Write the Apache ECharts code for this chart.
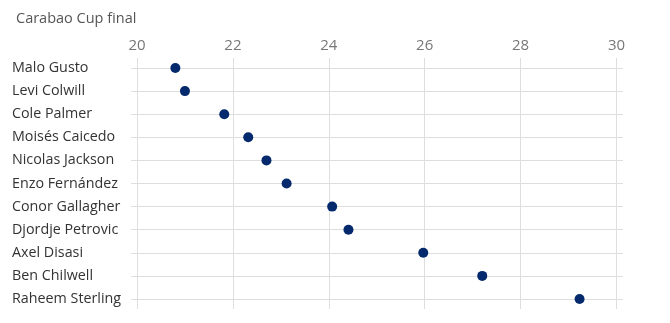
<!DOCTYPE html>
<html>
<head>
<meta charset="utf-8">
<script src="https://cdn.jsdelivr.net/npm/echarts@6/dist/echarts.min.js"></script>
<style>
  html, body { margin: 0; padding: 0; background: #fff; }
  #main { width: 670px; height: 323px; }
</style>
</head>
<body>
<div id="main"></div>
<script>
// players, top to bottom
var players = ['Malo Gusto', 'Levi Colwill', 'Cole Palmer', 'Moisés Caicedo', 'Nicolas Jackson',
  'Enzo Fernández', 'Conor Gallagher', 'Djordje Petrovic', 'Axel Disasi', 'Ben Chilwell', 'Raheem Sterling'];
// ages at the final
var ages = [20.8, 21.0, 21.82, 22.32, 22.7, 23.12, 24.07, 24.41, 25.97, 27.2, 29.23];
var xTicks = [20, 22, 24, 26, 28, 30];

var font = "'Open Sans', 'Noto Sans', sans-serif";
var chart = echarts.init(document.getElementById('main'));

// grid 0 holds the points and row lines (row lines run a little past the plot)
// grid 1 holds the top axis and the column lines
var pxPerUnit = (616.5 - 137) / (xTicks[xTicks.length - 1] - xTicks[0]);
var option = {
  animation: false,
  title: {
    text: 'Carabao Cup final',
    left: 11, top: 6,
    textStyle: { fontFamily: font, fontSize: 14.5, fontWeight: 'normal', color: '#555' }
  },
  grid: [
    { left: 131, right: 47, top: 68, bottom: 24 },
    { left: 137, right: 53.5, top: 58, bottom: 14 }
  ],
  xAxis: [
    {
      gridIndex: 0, type: 'value',
      min: xTicks[0] - 6 / pxPerUnit,
      max: xTicks[xTicks.length - 1] + 6.5 / pxPerUnit,
      show: false
    },
    {
      gridIndex: 1, type: 'value', position: 'top',
      min: xTicks[0], max: xTicks[xTicks.length - 1], interval: 2,
      axisLine: { show: false }, axisTick: { show: false },
      axisLabel: { fontFamily: font, fontSize: 15, color: '#777', margin: 5 },
      splitLine: { show: true, lineStyle: { color: '#dedede', width: 1 } }
    }
  ],
  yAxis: [
    {
      gridIndex: 0, type: 'category', data: players, inverse: true, boundaryGap: false,
      axisLine: { show: false }, axisTick: { show: false },
      axisLabel: {
        fontFamily: font, fontSize: 14.3, color: '#333',
        align: 'left', margin: 119
      },
      splitLine: { show: true, lineStyle: { color: '#dedede', width: 1 } }
    },
    {
      gridIndex: 1, type: 'value', show: false
    }
  ],
  series: [{
    type: 'scatter',
    xAxisIndex: 0, yAxisIndex: 0,
    data: ages,
    symbolSize: 10,
    itemStyle: { color: '#04296c', opacity: 1 }
  }]
};
chart.setOption(option);
</script>
</body>
</html>
